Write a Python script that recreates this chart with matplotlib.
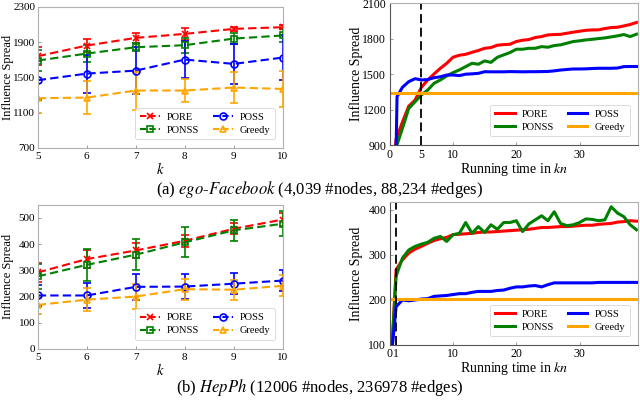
import matplotlib
matplotlib.use("Agg")
import matplotlib.pyplot as plt
from matplotlib.lines import Line2D

plt.rcParams['font.family'] = ['Liberation Serif', 'DejaVu Serif']
plt.rcParams['mathtext.fontset'] = 'stix'

# ---------------- data ----------------
k_values = [5, 6, 7, 8, 9, 10]
methods = ['PORE', 'PONSS', 'POSS', 'Greedy']

# (a) ego-Facebook, influence spread vs k
fb_pore = [1740, 1861, 1948, 1993, 2050, 2069]
fb_pore_err = [100, 75, 55, 65, 25, 25]
fb_ponss = [1691, 1770, 1842, 1865, 1940, 1975]
fb_ponss_err = [115, 95, 45, 85, 60, 75]
fb_poss = [1468, 1543, 1577, 1702, 1653, 1725]
fb_poss_err = [220, 215, 265, 210, 225, 255]
fb_greedy = [1264, 1271, 1351, 1351, 1385, 1369]
fb_greedy_err = [170, 190, 215, 135, 180, 200]

# (a) ego-Facebook, influence spread vs running time (kn)
fb_t = [0.5, 1, 2, 3, 4, 5, 6, 7, 8, 9, 10, 11, 12, 13, 14, 15, 16, 17, 18, 19, 20,
        21, 22, 23, 24, 25, 26, 27, 28, 29, 30, 31, 32, 33, 34, 35, 36, 37, 38, 39]
fb_t_poss = [0.95, 1.15, 2, 3, 4, 5, 6, 7, 8, 9, 10, 11, 12, 13, 14, 15, 16, 17, 18, 19, 20,
             21, 22, 23, 24, 25, 26, 27, 28, 29, 30, 31, 32, 33, 34, 35, 36, 37, 38, 39]
fb_curve_pore = [700, 950, 1095, 1230, 1281, 1389, 1451, 1502, 1550, 1592, 1643, 1660,
                 1668, 1685, 1700, 1719, 1725, 1745, 1750, 1753, 1776, 1787, 1793, 1810,
                 1818, 1832, 1835, 1837, 1846, 1855, 1863, 1871, 1874, 1875, 1886, 1894,
                 1897, 1908, 1920, 1937]
fb_curve_ponss = [650, 880, 1041, 1211, 1267, 1324, 1366, 1423, 1451, 1485, 1513, 1536,
                  1564, 1592, 1584, 1612, 1600, 1643, 1663, 1683, 1711, 1711, 1719, 1719,
                  1733, 1728, 1742, 1748, 1762, 1776, 1782, 1790, 1795, 1801, 1807, 1815,
                  1824, 1835, 1818, 1838]
fb_curve_poss = [700, 1310, 1389, 1437, 1462, 1451, 1455, 1470, 1478, 1493, 1493, 1488,
                 1500, 1503, 1507, 1521, 1520, 1520, 1520, 1522, 1521, 1520, 1521, 1521,
                 1522, 1523, 1528, 1535, 1540, 1544, 1544, 1545, 1548, 1550, 1550, 1550,
                 1552, 1564, 1565, 1565]
fb_curve_greedy = 1338

# (b) HepPh, influence spread vs k
hp_pore = [292, 343, 376, 413, 459, 494]
hp_pore_err = [35, 35, 28, 22, 20, 25]
hp_ponss = [277, 321, 360, 407, 453, 478]
hp_ponss_err = [48, 60, 58, 57, 40, 48]
hp_poss = [204, 204, 237, 238, 249, 261]
hp_poss_err = [40, 48, 50, 48, 40, 40]
hp_greedy = [168, 188, 200, 228, 226, 241]
hp_greedy_err = [34, 43, 46, 40, 38, 40]

# (b) HepPh, influence spread vs running time (kn)
hp_t = [0.3, 1, 2, 3, 4, 5, 6, 7, 8, 9, 10, 11, 12, 13, 14, 15, 16, 17, 18, 19, 20,
        21, 22, 23, 24, 25, 26, 27, 28, 29, 30, 31, 32, 33, 34, 35, 36, 37, 38, 39]
hp_curve_pore = [80, 267, 289, 304, 313, 319, 326, 332, 336, 339, 345, 346, 347, 348,
                 350, 351, 351, 352, 353, 354, 355, 356, 357, 359, 361, 361, 362, 363,
                 363, 364, 365, 366, 366, 368, 369, 370, 373, 374, 376, 375]
hp_curve_ponss = [80, 253, 293, 311, 319, 324, 328, 337, 341, 330, 345, 348, 372, 348,
                  363, 350, 367, 357, 372, 372, 376, 352, 369, 378, 387, 376, 396, 370,
                  365, 367, 372, 380, 379, 376, 378, 407, 393, 385, 367, 356]
hp_curve_poss = [80, 185, 200, 198, 200, 202, 203, 208, 209, 210, 212, 214, 214, 217,
                 219, 219, 219, 221, 222, 226, 229, 229, 231, 232, 229, 234, 238, 238,
                 238, 238, 238, 238, 238, 239, 239, 239, 239, 239, 239, 239]
hp_curve_greedy = 203

# ---------------- styles ----------------
colors = {'PORE': '#ff0000', 'PONSS': '#008000', 'POSS': '#0000ff', 'Greedy': '#ffa500'}
markers = {'PORE': 'x', 'PONSS': 's', 'POSS': 'o', 'Greedy': '^'}

fig = plt.figure(figsize=(6.4, 4.01), dpi=100)

ax_tl = fig.add_axes([0.059, 0.631, 0.383, 0.352])
ax_tr = fig.add_axes([0.609, 0.638, 0.3875, 0.354])
ax_bl = fig.add_axes([0.059, 0.130, 0.383, 0.359])
ax_br = fig.add_axes([0.609, 0.1397, 0.3875, 0.357])

spine_col = '#b0b0b0'


def style_axes(ax, size=8.5, pad=2.5):
    for s in ax.spines.values():
        s.set_color(spine_col)
        s.set_linewidth(0.8)
    ax.tick_params(direction='in', length=2, width=0.6, color='#888888',
                   labelsize=size, pad=pad, labelcolor='black')


def make_legend(ax, handles=None):
    kw = dict(ncol=2, loc='lower right', fontsize=7.5, frameon=True,
              handlelength=1.9, columnspacing=1.3, borderpad=0.45,
              labelspacing=0.35, handletextpad=0.7, bbox_to_anchor=(0.99, 0.025))
    if handles is not None:
        leg = ax.legend(handles=handles, **kw)
    else:
        leg = ax.legend(**kw)
    leg.get_frame().set_edgecolor('#cccccc')
    leg.get_frame().set_linewidth(0.6)


def k_panel(ax, series, errs, ylim, yticks):
    handles = []
    for name, vals, err in zip(methods, series, errs):
        ax.errorbar(k_values, vals, yerr=err, color=colors[name], linestyle='--',
                    linewidth=1.5, marker=markers[name], markersize=5,
                    markerfacecolor='none', markeredgewidth=1.2, capsize=3,
                    elinewidth=1.2, capthick=1.2, dashes=(4, 2))
        handles.append(Line2D([], [], color=colors[name], linestyle='--', dashes=(3, 1.5),
                              linewidth=1.5, marker=markers[name], markersize=5,
                              markerfacecolor='none', markeredgewidth=1.2, label=name))
    ax.set_xlim(5, 10)
    ax.set_ylim(*ylim)
    ax.set_xticks(k_values)
    ax.set_yticks(yticks)
    ax.set_xlabel('$k$', fontsize=10.5, labelpad=0)
    ax.set_ylabel('Influence Spread', fontsize=9)
    ax.yaxis.set_label_coords(-0.097, 0.5)
    style_axes(ax, size=8, pad=1.8)
    ax.tick_params(axis='x', pad=3)
    make_legend(ax, handles)


def t_panel(ax, ts, curves, greedy, ylim, yticks, xticks, vline):
    t_pore, t_ponss, t_poss = ts
    c_pore, c_ponss, c_poss = curves
    ax.plot(t_pore, c_pore, color=colors['PORE'], linewidth=2.2, label='PORE')
    ax.plot(t_ponss, c_ponss, color=colors['PONSS'], linewidth=2.2, label='PONSS')
    ax.plot(t_poss, c_poss, color=colors['POSS'], linewidth=2.2, label='POSS')
    ax.axhline(greedy, color=colors['Greedy'], linewidth=2.2, label='Greedy')
    ax.axvline(vline, color='black', linestyle='--', linewidth=1.3, dashes=(5, 2.5))
    ax.set_xlim(0, 39.2)
    ax.set_ylim(*ylim)
    ax.set_xticks(xticks)
    ax.set_yticks(yticks)
    ax.set_xlabel('Running time in $kn$', fontsize=10, labelpad=0)
    ax.set_ylabel('Influence Spread', fontsize=10)
    ax.yaxis.set_label_coords(-0.108, 0.5)
    style_axes(ax)
    for s in ['left', 'bottom']:
        ax.spines[s].set_color('#555555')
    make_legend(ax)


k_panel(ax_tl, [fb_pore, fb_ponss, fb_poss, fb_greedy],
        [fb_pore_err, fb_ponss_err, fb_poss_err, fb_greedy_err],
        (700, 2300), [700, 1100, 1500, 1900, 2300])
k_panel(ax_bl, [hp_pore, hp_ponss, hp_poss, hp_greedy],
        [hp_pore_err, hp_ponss_err, hp_poss_err, hp_greedy_err],
        (0, 550), [0, 100, 200, 300, 400, 500])

t_panel(ax_tr, (fb_t, fb_t, fb_t_poss), (fb_curve_pore, fb_curve_ponss, fb_curve_poss),
        fb_curve_greedy, (900, 2100), [900, 1200, 1500, 1800, 2100], [0, 5, 10, 20, 30], 5)
t_panel(ax_br, (hp_t, hp_t, hp_t), (hp_curve_pore, hp_curve_ponss, hp_curve_poss),
        hp_curve_greedy, (100, 418), [100, 200, 300, 400], [0, 1, 10, 20, 30], 1)

fig.text(0.5, 1 - 190 / 401, '(a) $\\it{ego}$-$\\it{Facebook}$ (4,039 #nodes, 88,234 #edges)',
         ha='center', va='center', fontsize=12)
fig.text(0.5, 1 - 388 / 401, '(b) $\\it{HepPh}$ (12006 #nodes, 236978 #edges)',
         ha='center', va='center', fontsize=12)

fig.savefig('out.png', dpi=100)
